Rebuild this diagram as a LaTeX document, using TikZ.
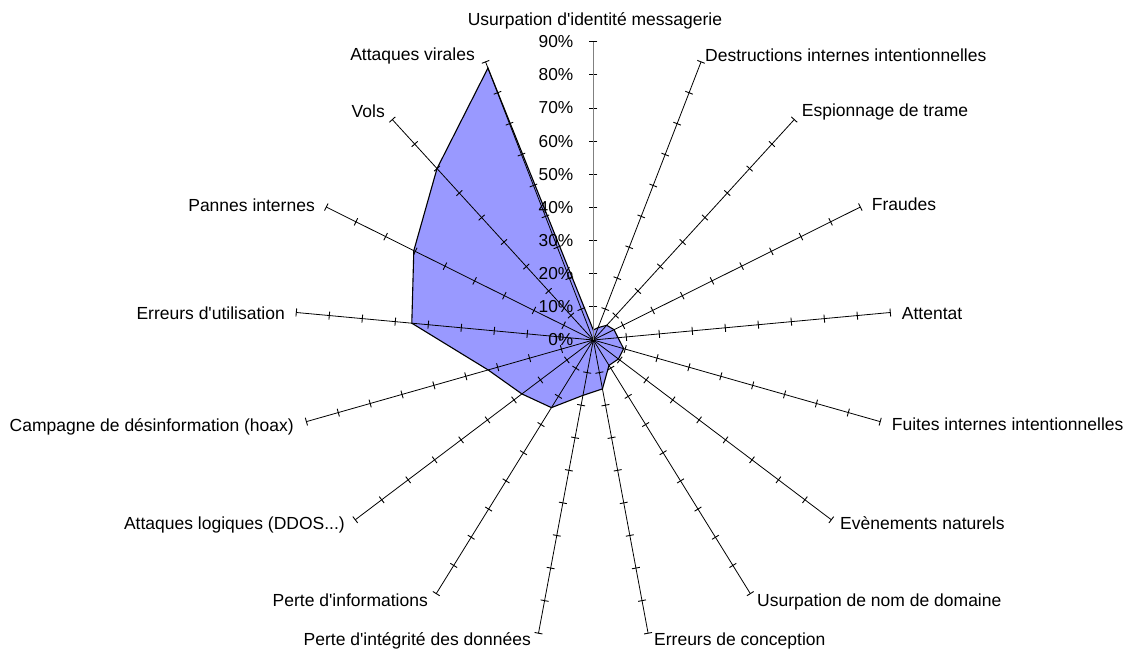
\documentclass[tikz,border=0pt]{standalone}
\usepackage{fontspec}
\setmainfont{Liberation Sans}
\usetikzlibrary{calc}
\definecolor{areafill}{HTML}{9999FF}
\definecolor{valaxis}{HTML}{808080}
\newcommand{\ap}{\textquotesingle}

\begin{document}
\begin{tikzpicture}[x=1pt, y=-1pt,
  axisline/.style={black, line width=0.8pt},
  tickmark/.style={black, line width=0.9pt},
  area/.style={draw=black, fill=areafill, line width=1.1pt, line join=miter},
  cat/.style={font=\fontsize{17.5}{20}\selectfont, inner sep=0pt},
  pct/.style={font=\fontsize{17.3}{20}\selectfont, inner sep=0pt, anchor=east}]
\useasboundingbox (0,0) rectangle (1127,653);
\coordinate (C) at (593.3,340);
\def\pc{3.3144}% one percent, in px

% ---------------------------------------------------- the data area
\foreach \v [count=\i from 0] in {3,4,6,7,7.5,9.5,9.5,9,15,17,24,27,33,55,60.5,70,88}
  \coordinate (p\i) at ($(C)+({\i*360/17-90}:{\v*\pc})$);
\draw[area] (p0) -- (p1) -- (p2) -- (p3) -- (p4) -- (p5) -- (p6) -- (p7) -- (p8)
  -- (p9) -- (p10) -- (p11) -- (p12) -- (p13) -- (p14) -- (p15) -- (p16) -- cycle;

% ---------------------------------------------------- spokes and ticks
\foreach \k in {0,...,16}{
  \draw[axisline] (C) -- ($(C)+({\k*360/17-90}:{90*\pc})$) coordinate (e\k);
  \foreach \t in {1,...,9}
    \draw[tickmark] ($(C)+({\k*360/17-90}:{\t*10*\pc})$) ++({\k*360/17}:4)
      -- ++({\k*360/17+180}:8);}
\draw[valaxis, line width=1.3pt] (C) -- (e0);

% ---------------------------------------------------- value labels
\foreach \t [evaluate=\t as \p using int(\t*10)] in {0,...,9}
  \node[pct] (v\t) at (573.5,{340-\t*10*\pc}) {\p\%};

% ---------------------------------------------------- categories
\node[cat, anchor=base]      (lab0)  at (595,25)      {Usurpation d\ap identité messagerie};
\node[cat, anchor=base west] (lab1)  at (705,61.5)    {Destructions internes intentionnelles};
\node[cat, anchor=base west] (lab2)  at (801.7,116.7) {Espionnage de trame};
\node[cat, anchor=base west] (lab3)  at (871.7,210.7) {Fraudes};
\node[cat, anchor=base west] (lab4)  at (901.7,319.3) {Attentat};
\node[cat, anchor=base west] (lab5)  at (891.7,430.7) {Fuites internes intentionnelles};
\node[cat, anchor=base west] (lab6)  at (840,529)     {Evènements naturels};
\node[cat, anchor=base west] (lab7)  at (757,606)     {Usurpation de nom de domaine};
\node[cat, anchor=base west] (lab8)  at (654,645)     {Erreurs de conception};
\node[cat, anchor=base east] (lab9)  at (531,645)     {Perte d\ap intégrité des données};
\node[cat, anchor=base east] (lab10) at (428,606)     {Perte d\ap informations};
\node[cat, anchor=base east] (lab11) at (345,529)     {Attaques logiques (DDOS...)};
\node[cat, anchor=base east] (lab12) at (294,431)     {Campagne de désinformation (hoax)};
\node[cat, anchor=base east] (lab13) at (285,319)     {Erreurs d\ap utilisation};
\node[cat, anchor=base east] (lab14) at (315,211)     {Pannes internes};
\node[cat, anchor=base east] (lab15) at (385,117.3)   {Vols};
\node[cat, anchor=base east] (lab16) at (475,60.5)    {Attaques virales};
\end{tikzpicture}
\end{document}
